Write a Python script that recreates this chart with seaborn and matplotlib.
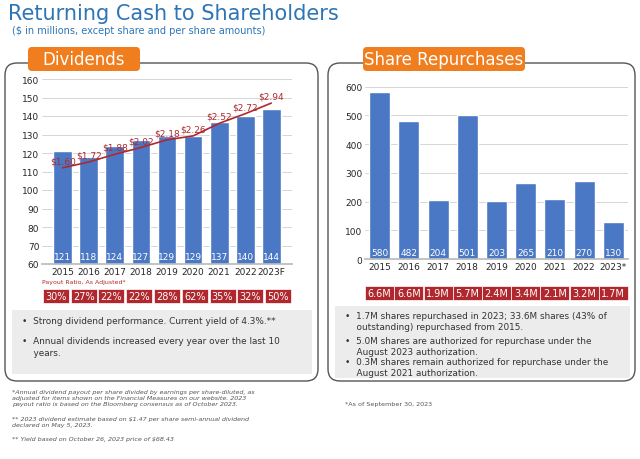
import matplotlib
matplotlib.use("Agg")
import matplotlib.pyplot as plt
import seaborn as sns
import numpy as np
import pandas as pd
from matplotlib.patches import FancyBboxPatch, Rectangle

sns.set_theme(style="white")
plt.rcParams['font.family'] = ['DejaVu Sans']

div_years = ["2015","2016","2017","2018","2019","2020","2021","2022","2023F"]
div_vals = [121,118,124,127,129,129,137,140,144]
dps = [1.60,1.72,1.88,2.02,2.18,2.26,2.52,2.72,2.94]
payout = ["30%","27%","22%","22%","28%","62%","35%","32%","50%"]
rep_years = ["2015","2016","2017","2018","2019","2020","2021","2022","2023*"]
rep_vals = [580,482,204,501,203,265,210,270,130]
rep_shares = ["6.6M","6.6M","1.9M","5.7M","2.4M","3.4M","2.1M","3.2M","1.7M"]

BLUE = "#4a78c4"; RED = "#b0282e"; ORANGE = "#f07d1e"; TBLUE = "#2e75b6"

fig = plt.figure(figsize=(6.4, 4.6), dpi=100)
bg = fig.add_axes([0, 0, 1, 1]); bg.set_xlim(0, 640); bg.set_ylim(460, 0); bg.axis("off")

bg.text(8, 4, "Returning Cash to Shareholders", color=TBLUE, fontsize=15, va="top")
bg.text(12, 26, "($ in millions, except share and per share amounts)", color=TBLUE, fontsize=7, va="top")

for x0, w in [(5, 313), (328, 307)]:
    bg.add_patch(FancyBboxPatch((x0, 64), w, 318, boxstyle="round,pad=0,rounding_size=12",
                                fc="white", ec="#555555", lw=1))
for x0, w, t in [(28, 112, "Dividends"), (363, 162, "Share Repurchases")]:
    bg.add_patch(FancyBboxPatch((x0, 48), w, 24, boxstyle="round,pad=0,rounding_size=4", fc=ORANGE, ec="none"))
    bg.text(x0 + w/2, 60, t, color="white", fontsize=12, ha="center", va="center")

# Left chart
L = dict(x=42, w=250, top=80, bot=265)
ax = fig.add_axes([L['x']/640, (460-L['bot'])/460, L['w']/640, (L['bot']-L['top'])/460])
df = pd.DataFrame({"year": div_years, "val": div_vals})
sns.barplot(data=df, x="year", y="val", color=BLUE, width=0.72, ax=ax, saturation=1)
ax.set_ylim(60, 160); ax.set_yticks(range(60, 161, 10))
ax.set_xlabel(""); ax.set_ylabel("")
ax.tick_params(labelsize=6.5, length=0, pad=2)
ax.yaxis.grid(True, color="#d0d0d0", lw=0.6); ax.set_axisbelow(True)
for s in ax.spines.values(): s.set_visible(False)
ax.spines['bottom'].set_visible(True); ax.spines['bottom'].set_color("#bbbbbb")
for i, v in enumerate(div_vals):
    ax.text(i, 61.5, str(v), color="white", fontsize=6.5, ha="center", va="bottom")
ax2 = ax.twinx()
ax2.set_ylim(1.60 - 52/26.1, 1.60 + 48/26.1)
ax2.plot(range(9), dps, color=RED, lw=1.2)
for i, d in enumerate(dps):
    ax2.text(i, d + 0.05, f"${d:.2f}", color=RED, fontsize=6.5, ha="center", va="bottom")
ax2.axis("off"); ax2.set_xlim(ax.get_xlim())

bg.text(42, 283, "Payout Ratio, As Adjusted*", color=RED, fontsize=4.5, va="center")
for i, p in enumerate(payout):
    cx = L['x'] + (i + 0.5) / 9 * L['w']
    bg.add_patch(Rectangle((cx - 13, 290), 26, 14, fc=RED, ec="white", lw=0.5))
    bg.text(cx, 297, p, color="white", fontsize=7, ha="center", va="center")

# Right chart
R = dict(x=365, w=263, top=82, bot=260)
axr = fig.add_axes([R['x']/640, (460-R['bot'])/460, R['w']/640, (R['bot']-R['top'])/460])
dfr = pd.DataFrame({"year": rep_years, "val": rep_vals})
sns.barplot(data=dfr, x="year", y="val", color=BLUE, width=0.72, ax=axr, saturation=1)
axr.set_ylim(0, 620); axr.set_yticks(range(0, 601, 100))
axr.set_xlabel(""); axr.set_ylabel("")
axr.tick_params(labelsize=6.5, length=0, pad=2)
axr.yaxis.grid(True, color="#d0d0d0", lw=0.6); axr.set_axisbelow(True)
for s in axr.spines.values(): s.set_visible(False)
axr.spines['bottom'].set_visible(True); axr.spines['bottom'].set_color("#bbbbbb")
for i, v in enumerate(rep_vals):
    axr.text(i, 6, str(v), color="white", fontsize=6.5, ha="center", va="bottom")
for i, s in enumerate(rep_shares):
    cx = R['x'] + (i + 0.5) / 9 * R['w']
    bg.add_patch(Rectangle((cx - 14.5, 287), 29, 14, fc=RED, ec="white", lw=0.5))
    bg.text(cx, 294, s, color="white", fontsize=7, ha="center", va="center")

# Gray bullet boxes
FS = 6.4
bg.add_patch(Rectangle((12, 311), 300, 64, fc="#ececec", ec="none"))
bg.text(22, 322, "•  Strong dividend performance. Current yield of 4.3%.**", fontsize=FS, color="#333333", va="center")
bg.text(22, 337, "•  Annual dividends increased every year over the last 10\n    years.", fontsize=FS, color="#333333", va="top", linespacing=1.5)
bg.add_patch(Rectangle((335, 307), 295, 72, fc="#ececec", ec="none"))
bg.text(345, 312, "•  1.7M shares repurchased in 2023; 33.6M shares (43% of\n    outstanding) repurchased from 2015.", fontsize=FS, color="#333333", va="top", linespacing=1.3)
bg.text(345, 337, "•  5.0M shares are authorized for repurchase under the\n    August 2023 authorization.", fontsize=FS, color="#333333", va="top", linespacing=1.3)
bg.text(345, 358, "•  0.3M shares remain authorized for repurchase under the\n    August 2021 authorization.", fontsize=FS, color="#333333", va="top", linespacing=1.3)

# Footnotes
bg.text(12, 390, "*Annual dividend payout per share divided by earnings per share-diluted, as\nadjusted for items shown on the Financial Measures on our website. 2023\npayout ratio is based on the Bloomberg consensus as of October 2023.",
        fontsize=4.6, color="#555555", va="top", style="italic", linespacing=1.3)
bg.text(12, 417, "** 2023 dividend estimate based on $1.47 per share semi-annual dividend\ndeclared on May 5, 2023.", fontsize=4.6, color="#555555", va="top", style="italic", linespacing=1.3)
bg.text(12, 437, "** Yield based on October 26, 2023 price of $68.43", fontsize=4.6, color="#555555", va="top", style="italic")
bg.text(345, 402, "*As of September 30, 2023", fontsize=4.6, color="#555555", va="top")

fig.savefig("out.png", dpi=100)
